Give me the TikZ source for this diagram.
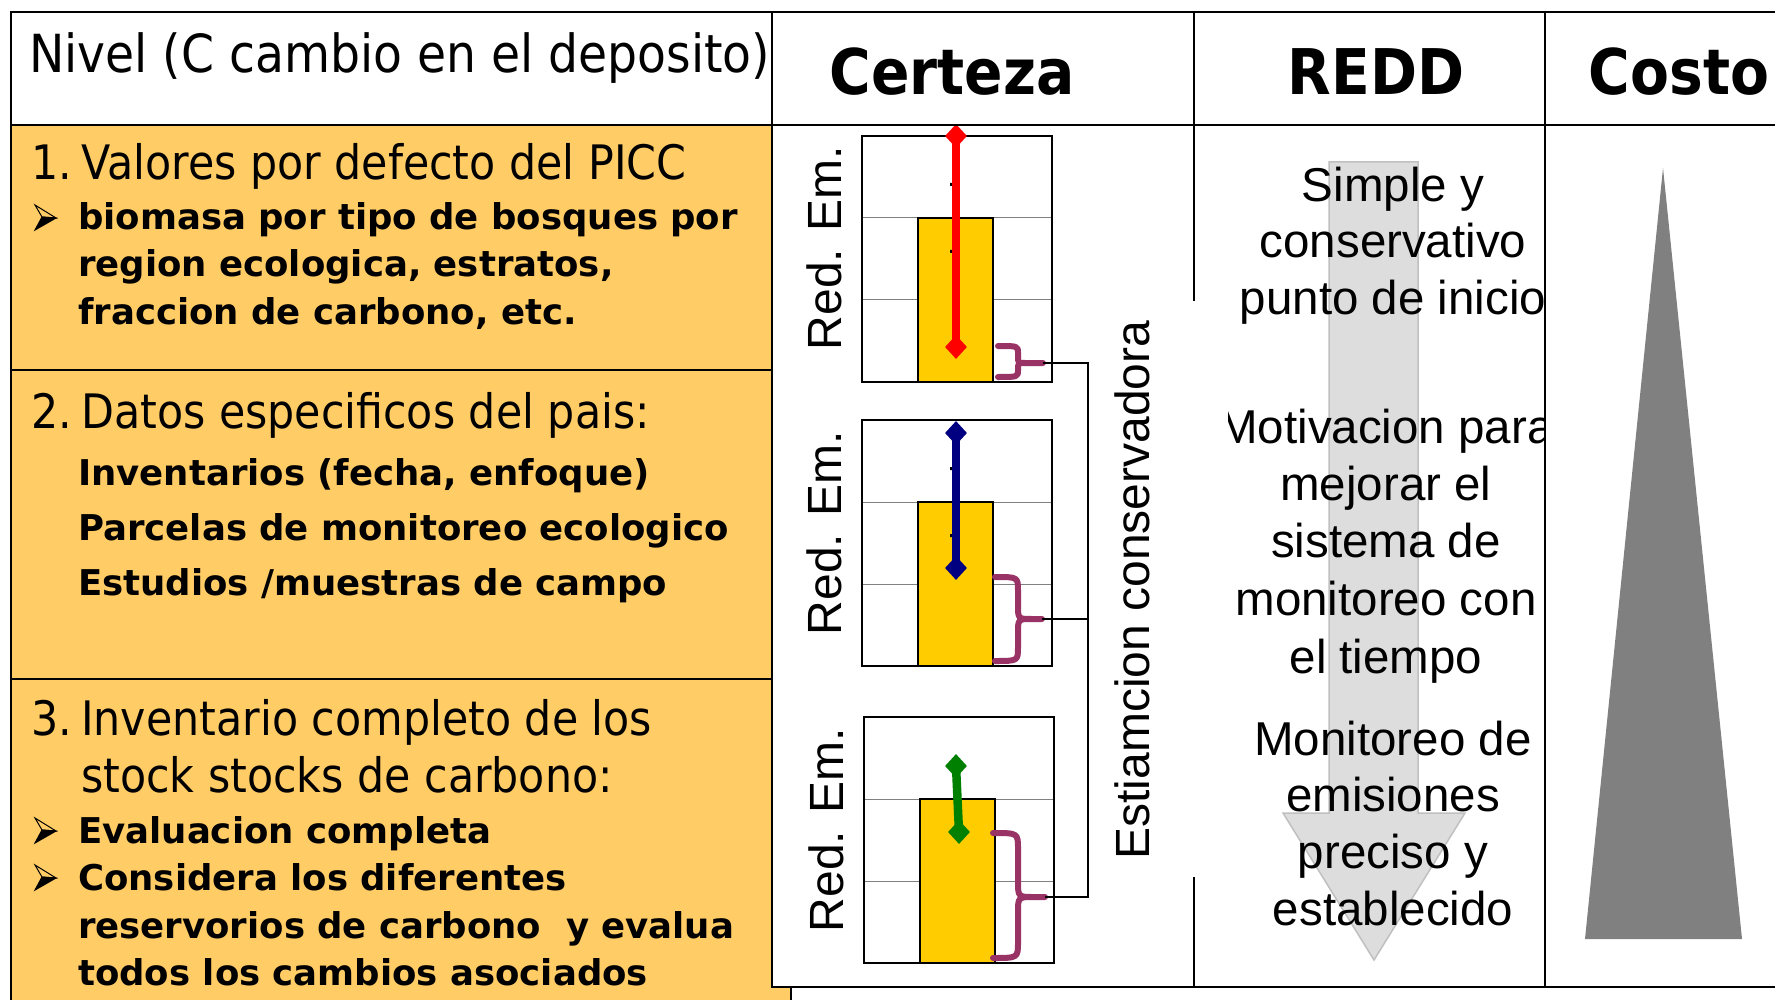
\documentclass[tikz,border=0pt]{standalone}
\usepackage{fontspec}
\setmainfont{Liberation Sans}
\newfontfamily\tahomafont[FakeStretch=0.9]{DejaVu Sans}
\newfontfamily\verdanafont{DejaVu Sans}
\usetikzlibrary{shapes.geometric}
\definecolor{cellorange}{HTML}{FFCC66}
\definecolor{bargold}{HTML}{FFCC00}
\definecolor{bracepurple}{HTML}{993366}
\definecolor{navyblue}{HTML}{000080}
\definecolor{darkgreen}{HTML}{008000}
\definecolor{arrowgray}{HTML}{DDDDDD}
\definecolor{arrowedge}{HTML}{C0C0C0}
\definecolor{costgray}{HTML}{808080}

\begin{document}
\begin{tikzpicture}[x=1pt, y=-1pt,
    tableline/.style={line width=2.5pt, line cap=rect},
    leveltitle/.style={anchor=base west, inner sep=0pt, font=\tahomafont\fontsize{47.5}{50}\selectfont},
    boldline/.style={anchor=base west, inner sep=0pt, font=\verdanafont\bfseries\fontsize{35.5}{40}\selectfont},
    colhead/.style={anchor=base, inner sep=0pt, font=\tahomafont\bfseries\fontsize{63}{63}\selectfont},
    reddtxt/.style={anchor=base, inner sep=0pt, font=\fontsize{47.5}{50}\selectfont},
    axislabel/.style={rotate=90, inner sep=0pt, font=\fontsize{48}{48}\selectfont},
    errmark/.style={diamond, inner sep=0pt, minimum width=22pt, minimum height=24pt},
    purplebrace/.style={bracepurple, line width=6pt, line cap=round, line join=round}]
    % Page
    \path[fill=white, use as bounding box] (0,0) rectangle (1775,1000);
    % Orange cells
    \fill[cellorange] (11,125) rectangle (772,1000);
    \fill[cellorange] (772,987) rectangle (791,1000);
    % Gray arrow in REDD column
    \filldraw[fill=arrowgray, draw=arrowedge, line width=1.5pt]
        (1329,162) -- (1418,162) -- (1418,813) -- (1465,813) -- (1374,960)
        -- (1283,813) -- (1329,813) -- cycle;
    % Cost triangle
    \fill[costgray] (1663,168) -- (1742,939) -- (1585,939) -- cycle;

    % Charts
    \foreach \cx/\cy in {862/136, 862/420, 864/717}
    {
        \draw[gray, line width=1pt] (\cx,\cy+82) -- ++(190,0) (\cx,\cy+164) -- ++(190,0);
        \draw[line width=1.5pt] (\cx,\cy) rectangle ++(190,246);
        \draw[fill=bargold, line width=1.2pt] (\cx+56,\cy+82) rectangle ++(75,164);
        \fill (950,\cy+47) rectangle ++(5,3) (950,\cy+114) rectangle ++(5,3);
    }
    % Error bars
    \node[errmark, fill=red] (redtop) at (956,136) {};
    \node[errmark, fill=red] (redbot) at (956,347) {};
    \draw[red, line width=8.5pt] (redtop.center) -- (redbot.center);
    \node[errmark, fill=navyblue] (navytop) at (956,433) {};
    \node[errmark, fill=navyblue] (navybot) at (956,568) {};
    \draw[navyblue, line width=8.5pt] (navytop.center) -- (navybot.center);
    \node[errmark, fill=darkgreen] (greentop) at (956,766) {};
    \node[errmark, fill=darkgreen] (greenbot) at (959,832) {};
    \draw[darkgreen, line width=8.5pt] (greentop.center) -- (greenbot.center);

    % Braces
    \foreach \n/\xl/\xt/\yt/\yc/\yb/\r in {1/998/1043/346/363/377/7, 2/995/1042/577/619/661/14, 3/993/1045/833/897/958/16}
    {
        \draw[purplebrace] (\xl,\yt) .. controls (1018,\yt) .. (1018,\yt+\r) -- (1018,\yc-\r)
            .. controls (1018,\yc) .. (1018+\r,\yc) -- (\xt,\yc) -- (1018+\r,\yc)
            .. controls (1018,\yc) .. (1018,\yc+\r) -- (1018,\yb-\r)
            .. controls (1018,\yb) .. (\xl,\yb);
        \coordinate (tip\n) at (\xt,\yc);
    }
    \coordinate (rail) at (1088,0);
    \draw[line width=1.5pt] (tip1) -| (rail |- tip3) -- (tip3);
    \draw[line width=1.5pt] (tip2) -- (rail |- tip2);

    % Axis labels
    \node[axislabel] (emone) at (824,248) {Red. Em.};
    \node[axislabel] (emtwo) at (824,533) {Red. Em.};
    \node[axislabel] (emthree) at (826,830) {Red. Em.};
    \node[axislabel] (estim) at (1132,590) {Estiamcion conservadora};

    % Headers
    \node[anchor=base west, inner sep=0pt, font=\tahomafont\fontsize{52.5}{52}\selectfont] (hnivel) at (29,73) {Nivel (C cambio en el deposito)};
    \node[colhead] (hcerteza) at (952,95) {Certeza};
    \node[colhead] (hredd) at (1376,95) {REDD};
    \node[colhead] (hcosto) at (1679,95) {Costo};

    % Arrowhead bullets
    \foreach \by in {230, 843, 890}
    {
        \filldraw[fill=cellorange, line width=1pt, line join=miter] (35,\by-25) -- (56,\by-12) -- (42,\by-13) -- cycle;
        \filldraw[line width=1pt, line join=miter] (42,\by-13) -- (56,\by-12) -- (35,\by) -- cycle;
    }

    % Level 1
    \node[leveltitle] (numone) at (31,180) {1.};
    \node[leveltitle] (lvlone) at (81,180) {Valores por defecto del PICC};
    \node[boldline] (bone) at (78,230) {biomasa por tipo de bosques por};
    \node[boldline] (btwo) at (78,277) {region ecologica, estratos,};
    \node[boldline] (bthree) at (78,325) {fraccion de carbono, etc.};
    % Level 2
    \node[leveltitle] (numtwo) at (31,428) {2.};
    \node[leveltitle] (lvltwo) at (81,428) {Datos especificos del pais:};
    \node[boldline] (bfour) at (78,485) {Inventarios (fecha, enfoque)};
    \node[boldline] (bfive) at (78,540) {Parcelas de monitoreo ecologico};
    \node[boldline] (bsix) at (78,595) {Estudios /muestras de campo};
    % Level 3
    \node[leveltitle] (numthree) at (31,735) {3.};
    \node[leveltitle] (lvlthree) at (81,735) {Inventario completo de los};
    \node[leveltitle] (lvlthreeb) at (81,792) {stock stocks de carbono:};
    \node[boldline] (bseven) at (78,843) {Evaluacion completa};
    \node[boldline] (beight) at (78,890) {Considera los diferentes};
    \node[boldline] (bnine) at (78,938) {reservorios de carbono~ y evalua};
    \node[boldline] (bten) at (78,985) {todos los cambios asociados};

    % REDD texts
    \begin{scope}
        \clip (1228,125) rectangle (1545,987);
        \foreach \t/\xx/\yy [count=\i] in {Simple y/1393/202, conservativo/1393/258, punto de inicio/1393/315,
            Motivacion para/1386/443, mejorar el/1386/500, sistema de/1386/557, monitoreo con/1386/615, el tiempo/1386/673,
            Monitoreo de/1393/755, emisiones/1393/811, preciso y/1393/868, establecido/1393/925}
        {
            \node[reddtxt] (redd\i) at (\xx,\yy) {\t};
        }
    \end{scope}

    % Table lines
    \draw[tableline] (11,12) -- (1775,12);
    \draw[tableline] (11,125) -- (1775,125);
    \draw[tableline] (11,370) -- (772,370);
    \draw[tableline] (11,679) -- (772,679);
    \draw[tableline] (772,987) -- (1775,987);
    \draw[tableline] (11,12) -- (11,1000);
    \draw[tableline] (772,12) -- (772,987);
    \draw[tableline] (1545,12) -- (1545,987);
    \draw[tableline] (1194,12) -- (1194,300) (1194,878) -- (1194,987);
    \draw[tableline] (791,987) -- (791,1000);
\end{tikzpicture}
\end{document}
